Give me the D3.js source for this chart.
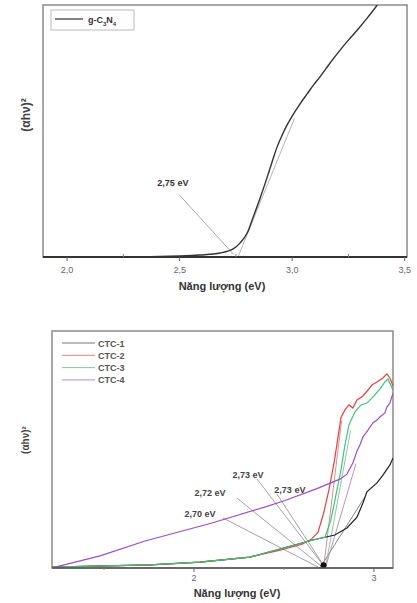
<!DOCTYPE html>
<html>
<head>
<meta charset="utf-8">
<script src="https://cdn.jsdelivr.net/npm/d3@7"></script>
<style>
  body { margin: 0; background: #fff; }
  text { font-family: "Liberation Sans", Arial, sans-serif; }
</style>
</head>
<body>
<div class="container"></div>
<script>
// DATA //////////////////////////////////////////////////////////
// top panel: g-C3N4 Tauc plot
var topEnergy = [1.893, 2.236, 2.502, 2.591, 2.68, 2.738, 2.769, 2.80, 2.827, 2.858, 2.889, 2.911, 2.933, 2.956, 2.978, 3.004, 3.035, 3.067, 3.095, 3.124, 3.152, 3.182, 3.22, 3.258, 3.296, 3.333, 3.378]
var topValue  = [0, 0, 0.4, 0.8, 1.6, 3.2, 5.6, 9.5, 15.9, 23.5, 31.7, 37.8, 43.7, 48.5, 52.5, 56.5, 60.8, 64.8, 68.3, 71.6, 75.0, 78.6, 82.9, 86.9, 90.8, 94.8, 100]
var topTicks = [2.0, 2.5, 3.0, 3.5]
var topMinor = [2.25, 2.75, 3.25]
var topTangent = [[2.75, -2], [3.01, 55]]
var topGap = {text: '2,75 eV', at: [2.47, 28], from: [2.5, 24.5], to: [2.74, 1]}

// bottom panel: CTC samples
var ctcNames  = ['CTC-1', 'CTC-2', 'CTC-3', 'CTC-4']
var ctcColors = ['#222222', '#e8413c', '#3cc47a', '#9b4fc4']
var ctc1Energy = [1.211, 1.756, 2.033, 2.311, 2.478, 2.661, 2.783, 2.85, 2.906, 2.939, 2.961, 3.017, 3.05, 3.089, 3.106]
var ctc1Value  = [0.4, 1.3, 2.5, 4.6, 8.0, 11.8, 13.9, 16.9, 21.5, 27.4, 32.1, 35.9, 39.2, 43.5, 46.4]
var ctc2Energy = [1.211, 1.756, 2.033, 2.311, 2.478, 2.60, 2.65, 2.689, 2.72, 2.75, 2.78, 2.80, 2.817, 2.839, 2.861, 2.883, 2.906, 2.939, 2.967, 2.989, 3.017, 3.05, 3.072, 3.089, 3.106]
var ctc2Value  = [0.4, 1.3, 2.5, 4.6, 7.5, 10.0, 12.0, 15.0, 23.0, 33.0, 45.0, 55.0, 63.5, 66.7, 68.8, 67.5, 70.9, 72.6, 75.1, 77.2, 78.5, 80.2, 81.9, 80.2, 76.8]
var ctc3Energy = [1.211, 1.756, 2.033, 2.311, 2.478, 2.661, 2.728, 2.761, 2.789, 2.817, 2.839, 2.861, 2.894, 2.928, 2.961, 3.0, 3.033, 3.061, 3.078, 3.106]
var ctc3Value  = [0.4, 1.3, 2.5, 4.6, 8.0, 11.8, 13.0, 20.3, 30.8, 41.4, 51.9, 60.3, 65.8, 68.8, 69.6, 72.6, 75.5, 78.5, 79.7, 75.1]
var ctc4Energy = [1.228, 1.478, 1.728, 2.1, 2.406, 2.506, 2.683, 2.811, 2.85, 2.883, 2.906, 2.922, 2.939, 2.967, 2.994, 3.017, 3.033, 3.061, 3.072, 3.089, 3.106]
var ctc4Value  = [0.4, 5.1, 11.4, 19.0, 26.0, 28.5, 33.5, 37.5, 39.6, 44.3, 49.4, 51.9, 55.3, 58.2, 61.2, 62.4, 63.7, 65.4, 67.9, 69.6, 73.8]
var ctcGap = [2.70, 2.72, 2.73, 2.73]
var ctcTangentTop = [[2.95, 30], [2.82, 62], [2.87, 58], [2.90, 44]]
var ctcLabels = [
    {text: '2,70 eV', at: [2.033, 21.5], from: [2.161, 21.1]},
    {text: '2,72 eV', at: [2.089, 30.5], from: [2.239, 29.5]},
    {text: '2,73 eV', at: [2.30, 38.0], from: [2.35, 37.6]},
    {text: '2,73 eV', at: [2.533, 31.8], from: [2.461, 31.2]}
]
var botTicks = [2, 3]
var botMinor = [1.5, 2.5]

var ctcSeries = ctcNames.map((n, i) => {
    var e = [ctc1Energy, ctc2Energy, ctc3Energy, ctc4Energy][i]
    var v = [ctc1Value, ctc2Value, ctc3Value, ctc4Value][i]
    return {name: n, color: ctcColors[i], pts: e.map((x, j) => [x, v[j]])}
})

// SVG ////////////////////////////////////////////////////////////
var svg = d3.select('.container')
    .append('svg')
    .attr('width', 417)
    .attr('height', 603)

svg.append('rect').attr('width', '100%').attr('height', '100%').style('fill', '#fff')

var defs = svg.append('defs')

function panel(id, x0, x1, y0, y1, xDom) {
    var x = d3.scaleLinear().domain(xDom).range([x0, x1])
    var y = d3.scaleLinear().domain([0, 100]).range([y1, y0])
    defs.append('clipPath').attr('id', id)
        .append('rect').attr('x', x0).attr('y', y0).attr('width', x1 - x0).attr('height', y1 - y0)
    return {x: x, y: y, clip: 'url(#' + id + ')'}
}

var line = (p) => d3.line().x(d => p.x(d[0])).y(d => p.y(d[1]))

// TOP PANEL ///////////////////////////////////////////////////////
var tp = panel('clipTop', 43, 407, 5, 257, [1.893, 3.51])
var gt = svg.append('g')

gt.append('rect')
    .attr('x', 43).attr('y', 5).attr('width', 364).attr('height', 252)
    .style('fill', 'none').style('stroke', '#8a8a8a').style('stroke-width', 1.5)

// gap leader + tangent
gt.append('path')
    .attr('d', line(tp)([topGap.from, topGap.to]))
    .attr('clip-path', tp.clip)
    .style('fill', 'none').style('stroke', '#aaa').style('stroke-width', 1)
gt.append('path')
    .attr('d', line(tp)(topTangent))
    .attr('clip-path', tp.clip)
    .style('fill', 'none').style('stroke', '#b5b5b5').style('stroke-width', 1)

gt.append('path')
    .datum(topEnergy.map((e, i) => [e, topValue[i]]))
    .attr('d', line(tp).curve(d3.curveMonotoneX))
    .attr('clip-path', tp.clip)
    .style('fill', 'none').style('stroke', '#333').style('stroke-width', 1.4)

gt.append('text')
    .attr('x', tp.x(topGap.at[0])).attr('y', tp.y(topGap.at[1]))
    .attr('text-anchor', 'middle')
    .style('font-size', '9px').style('font-weight', 'bold').style('fill', '#333')
    .text(topGap.text)

// axis
gt.append('line').attr('x1', 43).attr('x2', 407).attr('y1', 257).attr('y2', 257)
    .style('stroke', '#333').style('stroke-width', 1.8)
gt.selectAll('.tmaj').data(topTicks).enter().append('line')
    .attr('x1', d => tp.x(d)).attr('x2', d => tp.x(d)).attr('y1', 257).attr('y2', 261)
    .style('stroke', '#666')
gt.selectAll('.tmin').data(topMinor).enter().append('line')
    .attr('x1', d => tp.x(d)).attr('x2', d => tp.x(d)).attr('y1', 257).attr('y2', 254)
    .style('stroke', '#888')
gt.selectAll('.tlab').data(topTicks).enter().append('text')
    .attr('x', d => tp.x(d)).attr('y', 273)
    .attr('text-anchor', 'middle')
    .style('font-size', '9px').style('fill', '#666')
    .text(d => d3.format('.1f')(d).replace('.', ','))
gt.append('text')
    .attr('x', 222).attr('y', 290).attr('text-anchor', 'middle')
    .style('font-size', '11px').style('font-weight', 'bold').style('fill', '#333')
    .text('Năng lượng (eV)')
gt.append('text')
    .attr('transform', 'translate(30,115) rotate(-90)').attr('text-anchor', 'middle')
    .style('font-size', '12px').style('font-weight', 'bold').style('fill', '#444')
    .text('(αhν)²')

// legend
gt.append('rect').attr('x', 51).attr('y', 10).attr('width', 83).attr('height', 20)
    .style('fill', '#fff').style('stroke', '#bbb')
gt.append('line').attr('x1', 55).attr('x2', 83).attr('y1', 19).attr('y2', 19)
    .style('stroke', '#333').style('stroke-width', 1.2)
var lt = gt.append('text').attr('x', 88).attr('y', 23)
    .style('font-size', '9px').style('font-weight', 'bold').style('fill', '#333')
lt.append('tspan').text('g-C')
lt.append('tspan').attr('dy', 3).style('font-size', '6px').text('3')
lt.append('tspan').attr('dy', -3).text('N')
lt.append('tspan').attr('dy', 3).style('font-size', '6px').text('4')

// BOTTOM PANEL ////////////////////////////////////////////////////
var bp = panel('clipBot', 52, 393, 331, 568, [1.211, 3.106])
var gb = svg.append('g')

gb.append('rect')
    .attr('x', 52).attr('y', 331).attr('width', 341).attr('height', 237)
    .style('fill', 'none').style('stroke', '#8a8a8a').style('stroke-width', 1.5)

// tangents
gb.selectAll('.tan').data(ctcSeries).enter().append('path')
    .attr('d', (d, i) => line(bp)([[ctcGap[i], 0], ctcTangentTop[i]]))
    .attr('clip-path', bp.clip)
    .style('fill', 'none').style('stroke', (d, i) => d3.interpolateRgb(d.color, '#bbb')(0.55))
    .style('stroke-width', 0.9)

// leader lines
gb.selectAll('.lead').data(ctcLabels).enter().append('path')
    .attr('d', (d, i) => line(bp)([d.from, [ctcGap[i], 0]]))
    .style('fill', 'none').style('stroke', '#999').style('stroke-width', 0.9)

gb.selectAll('.ser').data(ctcSeries).enter().append('path')
    .attr('d', d => line(bp)(d.pts))
    .attr('clip-path', bp.clip)
    .style('fill', 'none').style('stroke', d => d.color).style('stroke-width', 1.2)

gb.append('circle')
    .attr('cx', bp.x(2.72)).attr('cy', bp.y(1.2)).attr('r', 3)
    .style('fill', '#111')

gb.selectAll('.clab').data(ctcLabels).enter().append('text')
    .attr('x', d => bp.x(d.at[0])).attr('y', d => bp.y(d.at[1]))
    .attr('text-anchor', 'middle')
    .style('font-size', '9px').style('font-weight', 'bold').style('fill', '#444')
    .text(d => d.text)

// axis
gb.append('line').attr('x1', 52).attr('x2', 393).attr('y1', 568).attr('y2', 568)
    .style('stroke', '#555').style('stroke-width', 1.5)
gb.selectAll('.bmaj').data(botTicks).enter().append('line')
    .attr('x1', d => bp.x(d)).attr('x2', d => bp.x(d)).attr('y1', 568).attr('y2', 572)
    .style('stroke', '#666')
gb.selectAll('.bmin').data(botMinor).enter().append('line')
    .attr('x1', d => bp.x(d)).attr('x2', d => bp.x(d)).attr('y1', 568).attr('y2', 570)
    .style('stroke', '#888')
gb.selectAll('.blab').data(botTicks).enter().append('text')
    .attr('x', d => bp.x(d)).attr('y', 581)
    .attr('text-anchor', 'middle')
    .style('font-size', '9px').style('fill', '#666')
    .text(d => d)
gb.append('text')
    .attr('x', 237).attr('y', 597).attr('text-anchor', 'middle')
    .style('font-size', '11px').style('font-weight', 'bold').style('fill', '#333')
    .text('Năng lượng (eV)')
gb.append('text')
    .attr('transform', 'translate(29,440) rotate(-90)').attr('text-anchor', 'middle')
    .style('font-size', '10px').style('font-weight', 'bold').style('fill', '#444')
    .text('(αhν)²')

// legend
gb.selectAll('.legl').data(ctcSeries).enter().append('line')
    .attr('x1', 62).attr('x2', 95)
    .attr('y1', (d, i) => 343 + i * 12.3).attr('y2', (d, i) => 343 + i * 12.3)
    .style('stroke', d => d3.interpolateRgb(d.color, '#ccc')(0.5)).style('stroke-width', 1)
gb.selectAll('.legt').data(ctcSeries).enter().append('text')
    .attr('x', 98).attr('y', (d, i) => 346.5 + i * 12.3)
    .style('font-size', '9px').style('font-weight', 'bold').style('fill', '#555')
    .text(d => d.name)
</script>
</body>
</html>
